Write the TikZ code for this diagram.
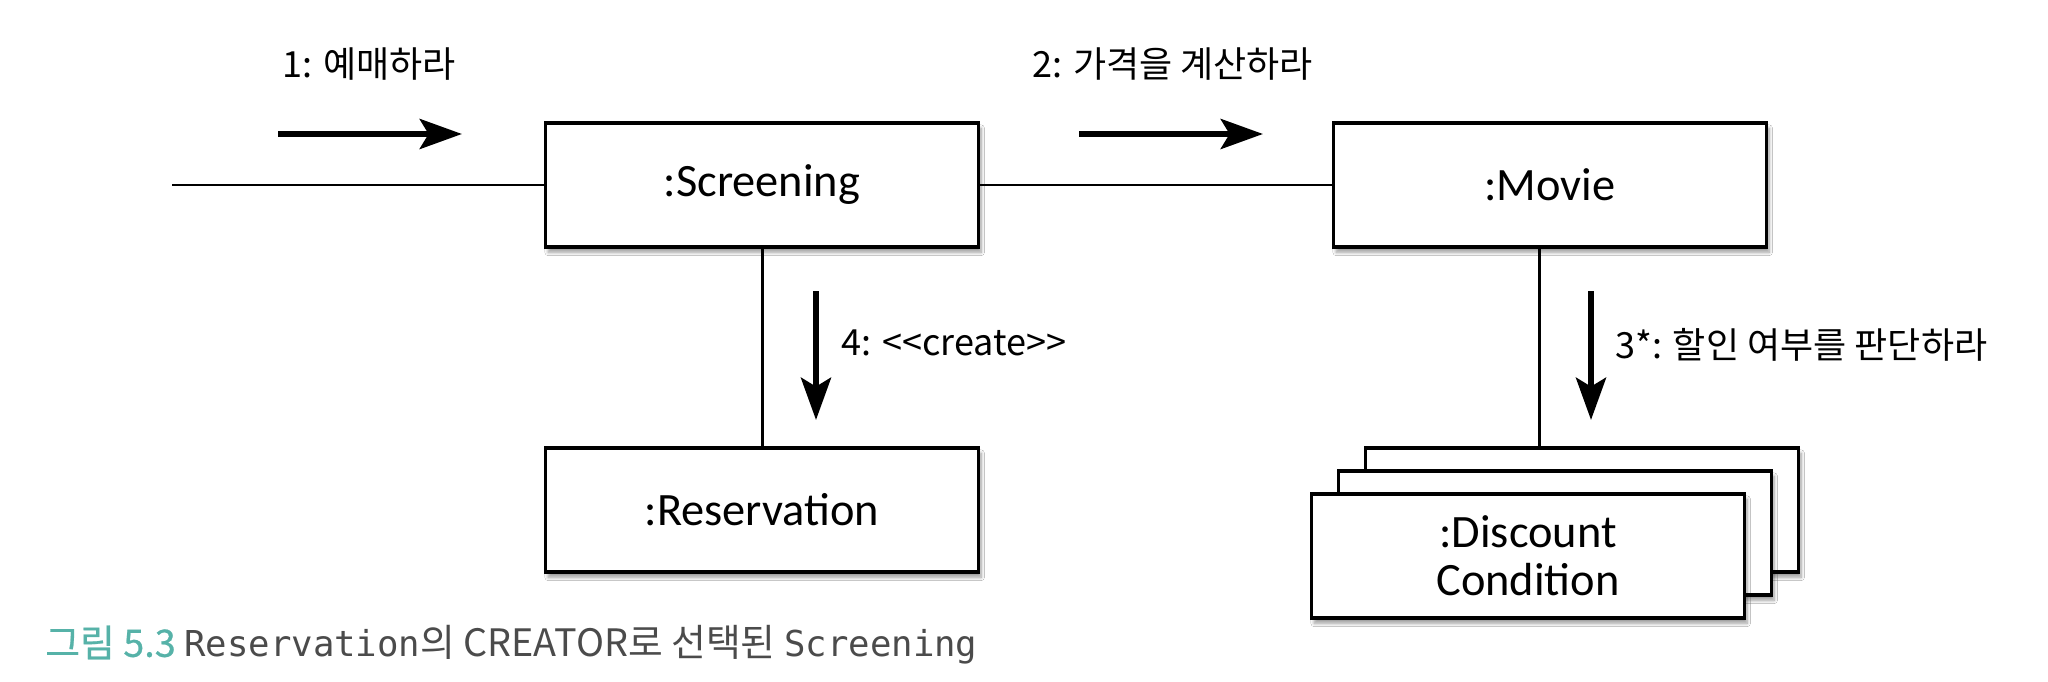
\documentclass[tikz,border=0pt]{standalone}
\usepackage{fontspec}
\setmainfont{Carlito}
\newfontfamily\kr{Noto Sans CJK KR}
\newfontfamily\krteal{Noto Sans CJK KR}[FakeBold=0.6]
\newfontfamily\mono{DejaVu Sans Mono}
\usetikzlibrary{arrows.meta,shadows.blur}
\definecolor{capteal}{RGB}{86,178,168}
\definecolor{capgray}{RGB}{75,75,75}
\begin{document}
\begin{tikzpicture}[x=0.02cm,y=-0.02cm,
  obj/.style={draw=black, line width=1.9pt, fill=white, minimum width=8.66cm, minimum height=2.48cm,
    font=\fontsize{26.4}{27.5}\selectfont, align=center, inner sep=0pt,
    blur shadow={shadow xshift=1.5pt, shadow yshift=-3pt, shadow opacity=40, shadow blur steps=7}},
  link/.style={line width=1.7pt},
  msg/.style={line width=3.6pt, -{Stealth[length=24pt,width=17pt,inset=5pt]}},
  lbl/.style={anchor=west, inner sep=0pt, font=\kr\fontsize{20.5}{22}\selectfont}]

\useasboundingbox (0,0) rectangle (2048,682);
\fill[white] (0,0) rectangle (2048,682);

% objects
\node[obj] (scr) at (762,185) {:Screening};
\node[obj] (mov) at (1550,185) {:Movie};
\node[obj] (res) at (762,510) {:Reservation};
\node[obj] (dc3) at (1582,510) {};
\node[obj] (dc2) at (1555,533) {};
\node[obj] (dc1) at (1528,556) {:Discount\\Condition};

% links
\coordinate (in) at (172,185);
\coordinate (mline) at (1539,0);
\draw[link] (in) -- (scr.west);
\draw[link] (scr.east) -- (mov.west);
\draw[link] (scr.south) -- (res.north);
\draw[link] (mline |- mov.south) -- (mline |- dc3.north);

% message arrows
\coordinate (a1s) at (278,134); \coordinate (a1e) at (462,134);
\coordinate (a2s) at (1079,134); \coordinate (a2e) at (1263,134);
\coordinate (a4s) at (816,291); \coordinate (a4e) at (816,420);
\coordinate (a3s) at (1591,291); \coordinate (a3e) at (1591,420);
\draw[msg] (a1s) -- (a1e);
\draw[msg] (a2s) -- (a2e);
\draw[msg] (a4s) -- (a4e);
\draw[msg] (a3s) -- (a3e);

% labels
\node[lbl] (l1) at (282,64) {1: 예매하라};
\node[lbl] (l2) at (1032,64) {2: 가격을 계산하라};
\node[lbl] (l4) at (841,343) {4: <<create>>};
\node[lbl] (l3) at (1615,345) {3*: 할인 여부를 판단하라};

% caption
\node[anchor=west, inner sep=0pt, font=\kr\fontsize{21.5}{23}\selectfont] (cap) at (45,645)
  {\textcolor{capteal}{\krteal 그림 5.3} \textcolor{capgray}{{\mono\fontsize{20.3}{22}\selectfont Reservation}의 CREATOR로 선택된 {\mono\fontsize{20.3}{22}\selectfont Screening}}};
\end{tikzpicture}
\end{document}
